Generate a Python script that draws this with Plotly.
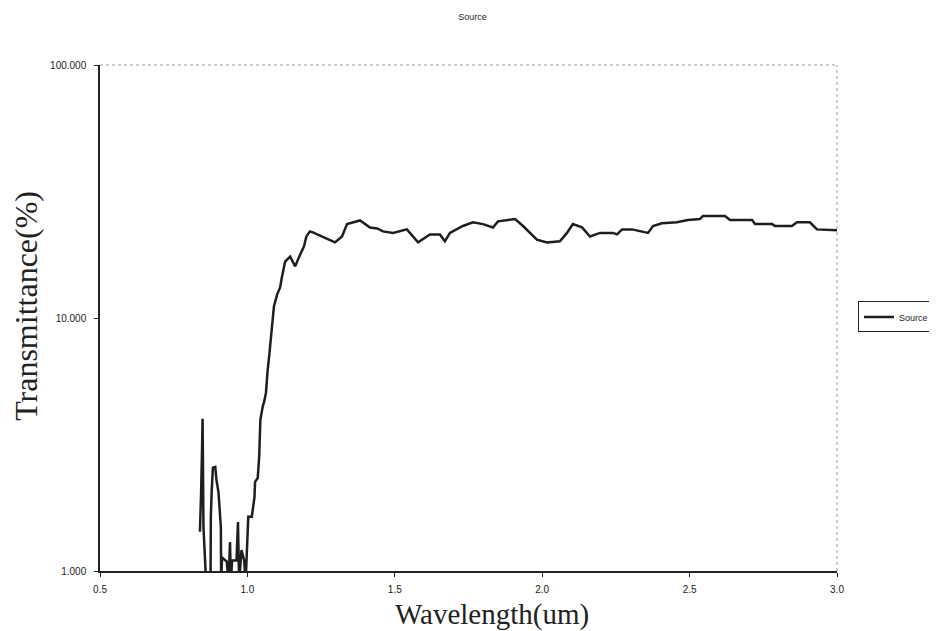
import plotly.graph_objects as go

wavelength = [0.839, 0.842, 0.843, 0.846, 0.848, 0.851, 0.853, 0.860, 0.875, 0.876, 0.879, 0.883,
              0.891, 0.895, 0.902, 0.906, 0.910, 0.911, 0.914, 0.930, 0.936, 0.941, 0.944, 0.948,
              0.963, 0.968, 0.972, 0.980, 0.989, 0.994, 0.998, 1.003, 1.015, 1.024, 1.026, 1.035,
              1.040, 1.044, 1.052, 1.057, 1.063, 1.066, 1.068, 1.075, 1.085, 1.090, 1.101, 1.111,
              1.117, 1.128, 1.145, 1.162, 1.175, 1.192, 1.200, 1.212, 1.222, 1.253, 1.297, 1.321,
              1.338, 1.382, 1.416, 1.440, 1.460, 1.494, 1.541, 1.579, 1.619, 1.653, 1.670, 1.687,
              1.711, 1.731, 1.765, 1.799, 1.833, 1.850, 1.908, 1.935, 1.982, 2.016, 2.060, 2.084,
              2.104, 2.135, 2.162, 2.196, 2.240, 2.254, 2.271, 2.305, 2.359, 2.376, 2.406, 2.457,
              2.494, 2.535, 2.545, 2.620, 2.637, 2.712, 2.722, 2.780, 2.790, 2.847, 2.864, 2.908,
              2.932, 3.000]
transmittance = [1.43, 1.71, 2.06, 2.96, 4.0, 1.49, 1.33, 0.9, 0.9, 1.64, 2.09, 2.56,
                 2.58, 2.29, 2.04, 1.67, 1.49, 0.9, 1.13, 1.09, 0.9, 1.30, 0.9, 1.10,
                 1.10, 1.56, 0.9, 1.21, 1.10, 0.9, 1.29, 1.64, 1.64, 1.96, 2.25, 2.33,
                 2.83, 3.96, 4.47, 4.67, 5.07, 5.7, 6.1, 7.3, 9.3, 11.1, 12.4, 13.2,
                 14.5, 16.7, 17.5, 16.0, 17.4, 19.2, 21.0, 22.0, 21.8, 21.0, 19.9, 21.0,
                 23.5, 24.3, 22.8, 22.6, 22.0, 21.7, 22.4, 19.9, 21.4, 21.4, 20.1, 21.7,
                 22.4, 23.1, 23.9, 23.5, 22.8, 24.1, 24.6, 23.1, 20.4, 19.9, 20.1, 21.7,
                 23.5, 22.8, 21.0, 21.7, 21.7, 21.4, 22.4, 22.4, 21.7, 23.1, 23.7, 23.9,
                 24.4, 24.6, 25.3, 25.3, 24.4, 24.4, 23.5, 23.5, 23.1, 23.1, 23.9, 23.9,
                 22.4, 22.2]

x_ticks = [0.5, 1.0, 1.5, 2.0, 2.5, 3.0]
x_tick_labels = ["0.5", "1.0", "1.5", "2.0", "2.5", "3.0"]
y_ticks = [1, 10, 100]
y_tick_labels = ["1.000", "10.000", "100.000"]

TICKFONT = dict(family="Liberation Sans Narrow, Liberation Sans, Arial", size=10, color="#222")
SERIF = "Liberation Serif, Times New Roman"

fig = go.Figure()
fig.add_trace(go.Scatter(
    x=wavelength, y=transmittance, mode="lines", name="Source",
    line=dict(color="#1e1e1e", width=2.5),
))

fig.update_layout(
    width=929, height=623,
    paper_bgcolor="white", plot_bgcolor="white",
    margin=dict(l=92, r=100, t=57, b=60, autoexpand=False),
    title=dict(text="Source", x=0.5, xanchor="center", y=1 - 9 / 623, yanchor="middle",
               yref="container",
               font=dict(family="Liberation Sans Narrow, Liberation Sans, Arial", size=9, color="#222")),
    showlegend=True,
    legend=dict(x=1.0285, y=0.502, xanchor="left", yanchor="middle",
                bordercolor="#222", borderwidth=1, bgcolor="white",
                font=dict(family="Liberation Sans Narrow, Liberation Sans, Arial", size=9, color="#222"),
                itemwidth=30, tracegroupgap=0),
    font=dict(family="Liberation Sans, Arial", color="#222"),
    annotations=[
        dict(text="Wavelength(um)", xref="paper", yref="paper", x=0.532, y=-0.085,
             xanchor="center", yanchor="middle", showarrow=False,
             font=dict(family=SERIF, size=29, color="#222")),
        dict(text="Transmittance(%)", xref="paper", yref="paper", x=-0.1004, y=0.524,
             xanchor="center", yanchor="middle", showarrow=False, textangle=-90,
             font=dict(family=SERIF, size=32, color="#222")),
    ],
)

fig.update_xaxes(
    range=[0.5, 3.0], tickvals=x_ticks, ticktext=x_tick_labels, automargin=False,
    showgrid=False, zeroline=False,
    showline=True, linecolor="#222", linewidth=1.5,
    ticks="outside", ticklen=4, tickcolor="#222", ticklabelstandoff=4,
    tickfont=TICKFONT,
)
fig.update_yaxes(
    type="log", range=[0, 2], tickvals=y_ticks, ticktext=y_tick_labels, automargin=False,
    showgrid=False, zeroline=False,
    showline=True, linecolor="#222", linewidth=1.5,
    ticks="outside", ticklen=4, tickcolor="#222", ticklabelstandoff=6,
    tickfont=TICKFONT,
)

# dotted top and right frame
fig.add_shape(type="line", xref="paper", yref="paper", x0=0, x1=1, y0=1, y1=1,
              line=dict(color="#999", width=1, dash="dot"))
fig.add_shape(type="line", xref="paper", yref="paper", x0=1, x1=1, y0=0, y1=1,
              line=dict(color="#999", width=1, dash="dot"))

fig.write_html("out.html")
